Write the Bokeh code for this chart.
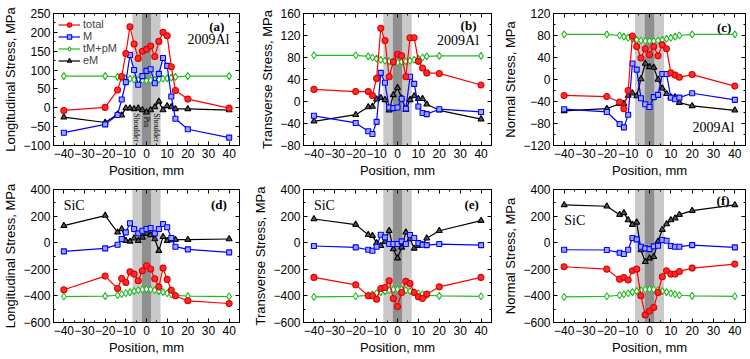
import math
from bokeh.plotting import figure
from bokeh.layouts import gridplot
from bokeh.models import (BoxAnnotation, Label, LinearAxis, FixedTicker, Range1d)
from bokeh.embed import file_html
from bokeh.resources import INLINE

# ---------------- data ----------------
x_pos = [-40, -20, -14, -12, -10, -8, -6, -4, -2, 0, 2, 4, 6, 8, 10, 12, 14, 20, 40]
x_ticks = [-40, -30, -20, -10, 0, 10, 20, 30, 40]

a_total = [-7, 1, 47, 83, 144, 215, 169, 131, 150, 155, 164, 136, 176, 200, 191, 109, 46, 23, -1]
a_M = [-66, -44, -19, 22, 68, 140, 100, 61, 84, 98, 102, 65, 90, 132, 111, 30, -29, -57, -79]
a_tMpM = [84, 84, 82, 80, 78, 77, 75, 74, 73, 72, 73, 74, 75, 77, 78, 80, 82, 84, 84]
a_eM = [-25, -39, -17, -20, -1, -1, -3, -1, -6, -12, -6, 2, 17, -6, 5, 2, -3, -3, -6]

b_total = [22, 18, 18, 11, 42, 133, 111, 45, 72, 86, 83, 45, 116, 116, 73, 61, 52, 51, 30]
b_M = [-26, -39, -54, -59, -37, 52, 34, -11, -12, -11, 5, -13, 45, 32, -9, -21, -23, -14, -19]
b_tMpM = [84, 84, 82, 80, 78, 76, 74, 73, 72, 71, 72, 73, 74, 76, 78, 80, 82, 83, 83]
b_eM = [-36, -24, -10, -9, 4, 7, 3, -16, 12, 25, 6, -15, 3, 10, 5, 5, -5, -16, -32]

c_total = [-29, -31, -41, -53, -20, 79, 60, 39, 56, 45, 60, 43, 63, 56, 12, 8, 4, 9, -12]
c_M = [-54, -59, -81, -87, -64, 29, 18, -34, -45, -50, -32, -28, 10, 10, -33, -36, -33, -25, -37]
c_tMpM = [82, 82, 80, 78, 76, 74, 72, 71, 70, 70, 70, 71, 72, 74, 76, 78, 80, 82, 82]
c_eM = [-57, -53, -44, -44, -29, -25, -30, 1, 29, 23, 22, 0, -16, -26, -32, -32, -42, -48, -56]

d_total = [-354, -251, -344, -269, -299, -219, -236, -286, -211, -173, -198, -271, -332, -191, -276, -357, -399, -437, -457]
d_M = [-65, -43, -15, 28, 78, 146, 103, 70, 90, 103, 111, 70, 103, 141, 116, 35, -30, -50, -73]
d_tMpM = [-405, -402, -395, -388, -380, -372, -364, -357, -352, -350, -352, -357, -364, -372, -380, -388, -395, -402, -405]
d_eM = [128, 204, 78, 103, 15, 10, 33, 15, 40, 70, 58, 28, -60, 45, 15, 20, 23, 23, 28]

e_total = [-261, -317, -399, -399, -425, -344, -337, -286, -420, -480, -374, -291, -307, -374, -407, -420, -387, -332, -261]
e_M = [-25, -35, -53, -60, -30, 60, 40, -10, -10, -10, 10, -10, 58, 35, -3, -15, -18, -10, -18]
e_tMpM = [-408, -403, -395, -388, -380, -372, -364, -357, -352, -350, -352, -357, -364, -372, -380, -388, -395, -400, -403]
e_eM = [178, 136, 60, 53, -3, -23, 8, 90, -48, -116, -35, 78, 28, -43, -23, -15, 33, 90, 166]

f_total = [-181, -199, -274, -262, -281, -211, -199, -399, -543, -513, -487, -374, -256, -211, -236, -236, -216, -191, -161]
f_M = [-53, -55, -75, -85, -53, 35, 25, -30, -43, -48, -28, -23, 20, 15, -25, -30, -30, -18, -35]
f_tMpM = [-408, -403, -395, -388, -380, -372, -364, -357, -352, -350, -352, -357, -364, -372, -380, -388, -395, -400, -403]
f_eM = [284, 274, 211, 224, 171, 136, 153, -55, -143, -116, -106, 10, 98, 141, 171, 184, 211, 241, 284]

yticks_a = [-100, -50, 0, 50, 100, 150, 200, 250]
yticks_b = [-80, -40, 0, 40, 80, 120, 160]
yticks_c = [-120, -80, -40, 0, 40, 80, 120]
yticks_sic = [-600, -400, -200, 0, 200, 400]

band_shoulder = [-6.8, 6.8]
band_pin = [-2.2, 2.2]

series_names = ["total", "M", "tM+pM", "eM"]

SANS = "Liberation Sans"
SERIF = "Liberation Serif"


def minor_of(ticks, extra=True):
    step = ticks[1] - ticks[0]
    m = [t + step / 2 for t in ticks[:-1]]
    if extra:
        m = [ticks[0] - step / 2] + m + [ticks[-1] + step / 2]
    return m


def style_axis(ax, ticks, label=None, blank=False):
    ax.ticker = FixedTicker(ticks=ticks, minor_ticks=minor_of(ticks))
    ax.major_tick_in = 4
    ax.major_tick_out = 0
    ax.minor_tick_in = 2
    ax.minor_tick_out = 0
    ax.axis_line_color = "black"
    ax.major_tick_line_color = "black"
    ax.minor_tick_line_color = "black"
    if blank:
        ax.major_label_text_font_size = "0px"
        ax.major_label_standoff = 0
        ax.major_label_overrides = {t: "" for t in ticks}
    else:
        ax.major_label_text_font = SANS
        ax.major_label_text_font_size = "12px"
        ax.major_label_text_color = "black"
        ax.major_label_standoff = 3
        ax.axis_label = label
        ax.axis_label_text_font = SANS
        ax.axis_label_text_font_size = "13px"
        ax.axis_label_text_font_style = "normal"
        ax.axis_label_text_color = "black"
        ax.axis_label_standoff = 2


def panel(width, height, bl, br, bt, bb, yrange, yticks, ylabel, data, legend=False):
    p = figure(width=width, height=height, output_backend="svg", toolbar_location=None,
               x_range=Range1d(-45, 45), y_range=Range1d(*yrange),
               min_border_left=bl, min_border_right=br, min_border_top=bt, min_border_bottom=bb)
    p.xgrid.visible = False
    p.ygrid.visible = False
    p.outline_line_color = "black"
    p.outline_line_width = 1
    p.background_fill_color = "white"
    p.border_fill_color = "white"
    style_axis(p.xaxis[0], x_ticks, "Position, mm")
    style_axis(p.yaxis[0], yticks, ylabel)
    top = LinearAxis()
    style_axis(top, x_ticks, blank=True)
    p.add_layout(top, "above")
    right = LinearAxis()
    style_axis(right, yticks, blank=True)
    p.add_layout(right, "right")

    p.add_layout(BoxAnnotation(left=band_shoulder[0], right=band_shoulder[1], fill_color="#c9c9c9",
                               fill_alpha=1, line_alpha=0, level="underlay"))
    p.add_layout(BoxAnnotation(left=band_pin[0], right=band_pin[1], fill_color="#8f8f8f",
                               fill_alpha=1, line_alpha=0, level="underlay"))

    total, M, tMpM, eM = data
    specs = [
        (total, "#ff0000", "circle", "#ff2a2a", "#dd0000", series_names[0], 6),
        (M, "#0000ff", "square", "#9aa6ff", "#0000ff", series_names[1], 5),
        (tMpM, "#22bb22", "diamond", "white", "#22bb22", series_names[2], 7),
        (eM, "#000000", "triangle", "#555555", "#000000", series_names[3], 6),
    ]
    order = [2, 3, 1, 0]
    for i in order:
        ys, lc, mk, fc, mlc, name, sz = specs[i]
        kw = {"legend_label": name} if legend else {}
        p.line(x_pos, ys, line_color=lc, line_width=1.2, **kw)
        p.scatter(x_pos, ys, marker=mk, size=sz, fill_color=fc,
                  line_color=mlc, line_width=1.1, **kw)
    if legend:
        lg = p.legend[0]
        items = list(lg.items)
        name_to_item = {it.label.value: it for it in items}
        lg.items = [name_to_item[n] for n in series_names]
        lg.location = "top_left"
        lg.background_fill_alpha = 0
        lg.border_line_alpha = 0
        lg.label_text_font = SANS
        lg.label_text_font_size = "11px"
        lg.glyph_width = 22
        lg.glyph_height = 11
        lg.label_height = 11
        lg.label_standoff = 3
        lg.spacing = 0
        lg.padding = 2
        lg.margin = 3
    return p


def lbl(p, x, y, text, size="13px", bold=False, angle=0.0):
    p.add_layout(Label(x=x, y=y, text=text, text_font=SERIF, text_font_size=size,
                       text_font_style="bold" if bold else "normal", text_color="black",
                       text_align="center", text_baseline="middle", angle=angle))


W = [250, 250, 250]
BL = [49, 49, 51]
BR = [11, 9, 5]
H = [180, 178]
BT = [13, 9]
BB = [34, 36]

pa = panel(W[0], H[0], BL[0], BR[0], BT[0], BB[0], (-100, 250), yticks_a, "Longitudinal Stress, MPa",
           (a_total, a_M, a_tMpM, a_eM), legend=True)
pb = panel(W[1], H[0], BL[1], BR[1], BT[0], BB[0], (-80, 160), yticks_b, "Transverse Stress, MPa",
           (b_total, b_M, b_tMpM, b_eM))
pc = panel(W[2], H[0], BL[2], BR[2], BT[0], BB[0], (-120, 120), yticks_c, "Normal Stress, MPa",
           (c_total, c_M, c_tMpM, c_eM))
pd = panel(W[0], H[1], BL[0], BR[0], BT[1], BB[1], (-600, 400), yticks_sic, "Longitudinal Stress, MPa",
           (d_total, d_M, d_tMpM, d_eM))
pe = panel(W[1], H[1], BL[1], BR[1], BT[1], BB[1], (-600, 400), yticks_sic, "Transverse Stress, MPa",
           (e_total, e_M, e_tMpM, e_eM))
pf = panel(W[2], H[1], BL[2], BR[2], BT[1], BB[1], (-600, 400), yticks_sic, "Normal Stress, MPa",
           (f_total, f_M, f_tMpM, f_eM))

lbl(pa, 34, 216, "(a)", bold=True)
lbl(pa, 30, 180, "2009Al", size="14px")
lbl(pa, -4.7, -53, "Shoulder", size="8px", angle=-math.pi / 2)
lbl(pa, 0, -37, "Pin", size="8px", angle=-math.pi / 2)
lbl(pa, 4.7, -53, "Shoulder", size="8px", angle=-math.pi / 2)

lbl(pb, 34, 138, "(b)", bold=True)
lbl(pb, 29, 111, "2009Al", size="14px")

lbl(pc, 35, 95, "(c)", bold=True)
lbl(pc, 30, -88, "2009Al", size="14px")

lbl(pd, -35, 279, "SiC", size="14px")
lbl(pd, 35, 286, "(d)", bold=True)

lbl(pe, -35, 279, "SiC", size="14px")
lbl(pe, 35.5, 286, "(e)", bold=True)

lbl(pf, -35, 166, "SiC", size="14px")
lbl(pf, 34.5, 317, "(f)", bold=True)

grid = gridplot([[pa, pb, pc], [pd, pe, pf]], toolbar_location=None)

open("out.html", "w").write(file_html(grid, INLINE))
